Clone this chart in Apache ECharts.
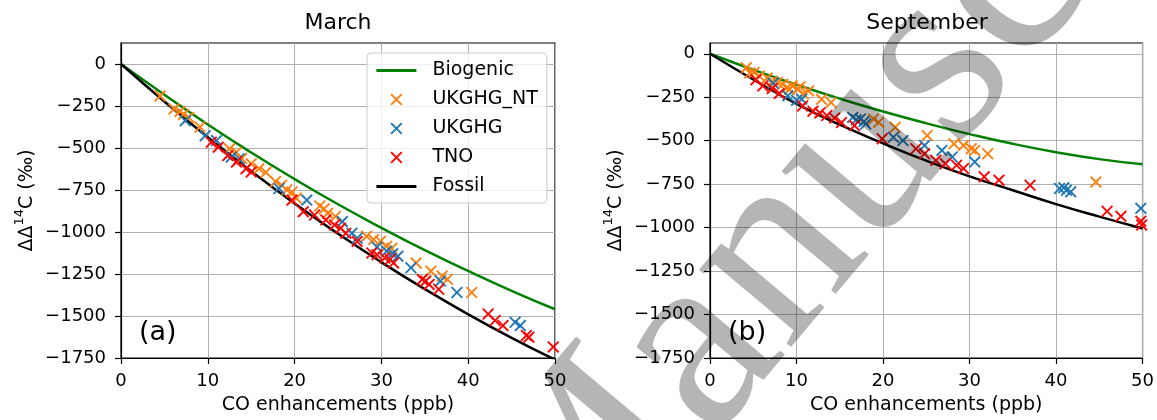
<!DOCTYPE html>
<html><head><meta charset="utf-8">
<script src="https://cdn.jsdelivr.net/npm/echarts@6/dist/echarts.min.js"></script>
<style>html,body{margin:0;padding:0;background:#fff}#c{width:1157px;height:420px}</style>
</head><body><div id="c"></div>
<script>
// ---------- data ----------
const xTicks = [0, 10, 20, 30, 40, 50];
const yTicks = [0, -250, -500, -750, -1000, -1250, -1500, -1750];
const lineX = [0, 5, 10, 15, 20, 25, 30, 35, 40, 45, 50];

const marchBiogenic = [0, -183, -360, -527, -685, -835, -975, -1108, -1232, -1350, -1460];
const marchFossil   = [0, -223, -436, -638, -830, -1010, -1180, -1340, -1490, -1630, -1760];
const sepBiogenic   = [0, -92, -178, -258, -332, -400, -462, -518, -566, -606, -636];
const sepFossil     = [0, -148, -288, -408, -515, -615, -705, -785, -865, -937, -1005];

const marchUKGHG_NT = [[4.5,-191],[6.1,-268],[6.8,-282],[7.2,-300],[7.8,-318],[9.1,-375],[12.5,-505],[13.3,-525],
  [13.9,-562],[15.0,-594],[15.9,-623],[16.7,-645],[17.8,-700],[18.5,-721],[19.1,-750],[19.7,-762],[20.2,-798],
  [22.9,-845],[23.4,-862],[23.8,-889],[24.7,-908],[28.3,-1026],[29.1,-1045],[29.9,-1055],[30.6,-1085],[31.2,-1097],
  [34.0,-1184],[35.7,-1233],[37.0,-1262],[37.6,-1281],[40.4,-1360]];
const marchUKGHG = [[7.4,-338],[9.7,-427],[11.0,-456],[12.7,-554],[13.6,-564],[18.2,-741],[21.4,-810],[25.5,-938],
  [26.6,-1007],[27.2,-1037],[29.5,-1090],[30.6,-1114],[31.3,-1130],[31.9,-1144],[33.4,-1213],[36.8,-1292],[38.7,-1360],
  [45.4,-1537],[46.0,-1557]];
const marchTNO = [[10.4,-466],[11.2,-495],[12.3,-545],[13.3,-584],[14.4,-623],[15.0,-643],[19.7,-810],[21.0,-879],
  [22.3,-899],[23.6,-928],[24.6,-958],[25.3,-977],[25.9,-1007],[27.2,-1056],[28.9,-1125],[29.5,-1135],[30.4,-1155],
  [31.0,-1164],[31.4,-1184],[34.7,-1282],[35.1,-1292],[35.5,-1312],[36.6,-1341],[42.3,-1488],[43.1,-1527],[44.0,-1557],
  [46.7,-1616],[47.0,-1626],[49.8,-1684]];

const sepUKGHG_NT = [[4.2,-80],[4.6,-110],[5.1,-108],[5.7,-128],[6.6,-140],[7.2,-158],[7.8,-165],[8.4,-175],[8.9,-194],
  [9.2,-205],[9.5,-184],[10.1,-203],[10.4,-190],[10.8,-232],[11.4,-213],[12.9,-262],[14.0,-280],[18.9,-375],[19.5,-394],
  [21.4,-423],[25.1,-470],[28.2,-518],[29.3,-527],[30.2,-546],[30.6,-556],[32.1,-575],[44.6,-737]];
const sepUKGHG = [[7.3,-170],[9.0,-242],[10.0,-268],[10.6,-261],[16.5,-366],[16.9,-380],[17.4,-375],[17.8,-390],
  [18.0,-404],[21.2,-480],[22.3,-499],[24.8,-527],[26.8,-556],[28.0,-594],[30.6,-622],[40.4,-775],[40.9,-770],
  [41.2,-785],[41.7,-794],[49.8,-889]];
const sepTNO = [[5.3,-150],[6.1,-185],[7.2,-200],[8.0,-228],[10.7,-300],[11.9,-330],[12.7,-340],[13.5,-355],[14.4,-370],
  [15.2,-395],[16.7,-413],[19.9,-489],[23.8,-546],[24.8,-575],[26.1,-613],[27.2,-632],[28.5,-641],[29.3,-660],
  [31.7,-708],[33.4,-727],[37.0,-756],[45.9,-906],[47.5,-935],[49.8,-963],[49.9,-985]];

// ---------- chart ----------
const FONT = 'DejaVu Sans';
const COLORS = {Biogenic: '#008000', UKGHG_NT: '#ff7f0e', UKGHG: '#1f77b4', TNO: '#ff0000', Fossil: '#000000'};
const XPATH = 'path://M0,1.1L1.1,0L5,3.9L8.9,0L10,1.1L6.1,5L10,8.9L8.9,10L5,6.1L1.1,10L0,8.9L3.9,5Z';
const minus = v => String(v).replace('-', '\u2212');

function pair(arr) { return lineX.map((x, i) => [x, arr[i]]); }

function xAxis(idx) {
  return {
    gridIndex: idx, type: 'value', min: 0, max: 50, interval: 10,
    name: 'CO enhancements (ppb)', nameLocation: 'middle', nameGap: 38,
    nameTextStyle: {fontFamily: FONT, fontSize: 19, color: '#000'},
    axisLine: {show: true, onZero: false, lineStyle: {color: '#000', width: 1.2}},
    axisTick: {show: true, length: 6, lineStyle: {color: '#000', width: 1.2}, customValues: xTicks},
    axisLabel: {fontFamily: FONT, fontSize: 18, color: '#000', margin: 14, customValues: xTicks},
    splitLine: {show: true, lineStyle: {color: '#b0b0b0', width: 1}}
  };
}
function yAxis(idx, max) {
  return {
    gridIndex: idx, type: 'value', min: -1750, max: max, interval: 250,
    name: '{a|ΔΔ}{s|14}{a|C (‰)}', nameLocation: 'middle', nameGap: 84, nameRotate: 90,
    nameTextStyle: {color: '#000', rich: {
      a: {fontFamily: FONT, fontSize: 19, color: '#000', lineHeight: 24, verticalAlign: 'bottom'},
      s: {fontFamily: FONT, fontSize: 13, color: '#000', lineHeight: 24, verticalAlign: 'top'}
    }},
    axisLine: {show: true, onZero: false, lineStyle: {color: '#000', width: 1.2}},
    axisTick: {show: true, length: 6, lineStyle: {color: '#000', width: 1.2}, customValues: yTicks},
    axisLabel: {fontFamily: FONT, fontSize: 18, color: '#000', margin: 15, customValues: yTicks, formatter: minus},
    splitLine: {show: true, lineStyle: {color: '#b0b0b0', width: 1}}
  };
}
function lineSeries(name, idx, arr) {
  return {name, type: 'line', xAxisIndex: idx, yAxisIndex: idx, data: pair(arr), symbol: 'none',
    smooth: true, lineStyle: {color: COLORS[name], width: 2.5}, itemStyle: {color: COLORS[name]},
    silent: true, animation: false, z: 3};
}
function scatterSeries(name, idx, data) {
  return {name, type: 'scatter', xAxisIndex: idx, yAxisIndex: idx, data, symbol: XPATH, symbolSize: 12,
    symbolKeepAspect: true, itemStyle: {color: COLORS[name], opacity: 1}, animation: false, z: 3};
}

const deg = Math.PI / 180;
const hidden = {color: 'rgba(0,0,0,0)', borderColor: 'rgba(0,0,0,0)', borderWidth: 0};
const option = {
  backgroundColor: '#fff',
  animation: false,
  grid: [
    {left: 121, top: 43, width: 434, height: 318, show: true, borderColor: '#000', borderWidth: 1.2, backgroundColor: 'transparent'},
    {left: 710, top: 43, width: 434, height: 318, show: true, borderColor: '#000', borderWidth: 1.2, backgroundColor: 'transparent'}
  ],
  xAxis: [xAxis(0), xAxis(1)],
  yAxis: [yAxis(0, 125), yAxis(1, 62)],
  legend: {
    left: 367, top: 53, orient: 'vertical',
    padding: [8, 9, 7, 8], itemWidth: 40, itemHeight: 12, itemGap: 10,
    backgroundColor: 'rgba(255,255,255,0.8)', borderColor: '#cccccc', borderWidth: 1, borderRadius: 4,
    textStyle: {fontFamily: FONT, fontSize: 19, color: '#000', padding: [0, 0, 0, 11]},
    data: [
      {name: 'Biogenic', itemStyle: hidden, lineStyle: {width: 2.8, color: COLORS.Biogenic}},
      'UKGHG_NT', 'UKGHG', 'TNO',
      {name: 'Fossil', itemStyle: hidden, lineStyle: {width: 2.8, color: COLORS.Fossil}}
    ],
    selectedMode: false
  },
  series: [
    lineSeries('Biogenic', 0, marchBiogenic),
    scatterSeries('UKGHG_NT', 0, marchUKGHG_NT),
    scatterSeries('UKGHG', 0, marchUKGHG),
    scatterSeries('TNO', 0, marchTNO),
    lineSeries('Fossil', 0, marchFossil),
    lineSeries('Biogenic', 1, sepBiogenic),
    scatterSeries('UKGHG_NT', 1, sepUKGHG_NT),
    scatterSeries('UKGHG', 1, sepUKGHG),
    scatterSeries('TNO', 1, sepTNO),
    lineSeries('Fossil', 1, sepFossil)
  ],
  graphic: [
    {type: 'text', x: 338, y: 23, style: {text: 'March', font: '22px "DejaVu Sans"', fill: '#000', align: 'center', verticalAlign: 'middle'}},
    {type: 'text', x: 927, y: 23, style: {text: 'September', font: '22px "DejaVu Sans"', fill: '#000', align: 'center', verticalAlign: 'middle'}},
    {type: 'text', x: 139, y: 333, style: {text: '(a)', font: '27px "DejaVu Sans"', fill: '#000', align: 'left', verticalAlign: 'middle'}},
    {type: 'text', x: 728, y: 333, style: {text: '(b)', font: '27px "DejaVu Sans"', fill: '#000', align: 'left', verticalAlign: 'middle'}},
    {type: 'text', x: 510, y: 575, rotation: 50 * deg, z: 100,
      style: {text: 'Manuscript', font: '262px "Liberation Serif"', fill: 'rgba(0,0,0,0.29)', align: 'left', verticalAlign: 'middle'}}
  ]
};
const chart = echarts.init(document.getElementById('c'), null, {renderer: 'canvas'});
chart.setOption(option);
</script></body></html>
